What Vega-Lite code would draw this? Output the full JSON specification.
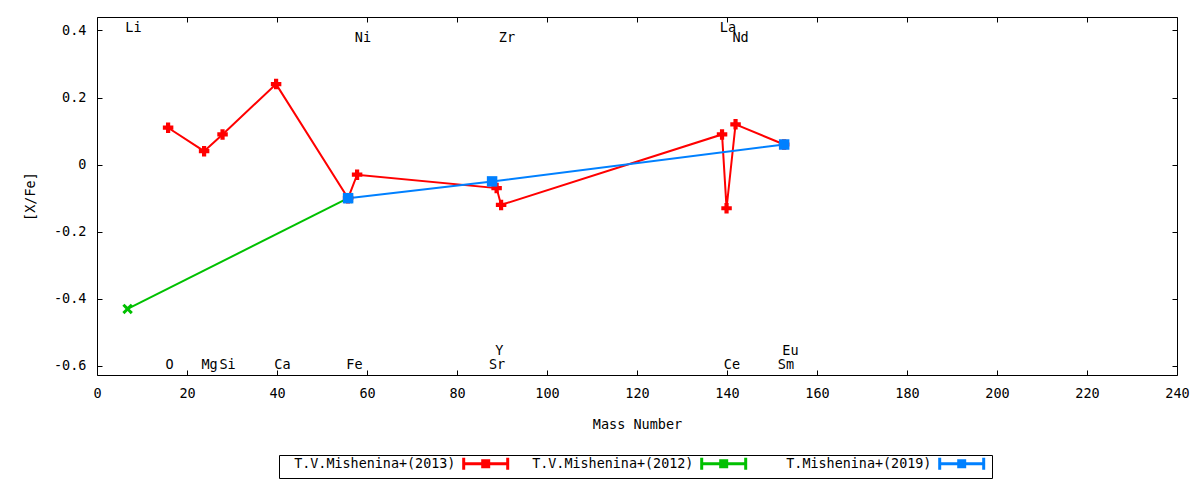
{
  "$schema": "https://vega.github.io/schema/vega-lite/v6.json",
  "width": 1080,
  "height": 358,
  "autosize": {"type": "none"},
  "padding": {"left": 97, "top": 17, "right": 23, "bottom": 105},
  "background": "white",
  "datasets": {
    "abund": [
      {"ref": "T.V.Mishenina+(2013)", "el": "O", "mass": 15.8, "xfe": 0.11},
      {"ref": "T.V.Mishenina+(2013)", "el": "Mg", "mass": 23.8, "xfe": 0.04},
      {"ref": "T.V.Mishenina+(2013)", "el": "Si", "mass": 27.9, "xfe": 0.09},
      {"ref": "T.V.Mishenina+(2013)", "el": "Ca", "mass": 39.8, "xfe": 0.24},
      {"ref": "T.V.Mishenina+(2013)", "el": "Fe", "mass": 55.8, "xfe": -0.10},
      {"ref": "T.V.Mishenina+(2013)", "el": "Ni", "mass": 57.8, "xfe": -0.03},
      {"ref": "T.V.Mishenina+(2013)", "el": "Sr", "mass": 88.8, "xfe": -0.07},
      {"ref": "T.V.Mishenina+(2013)", "el": "Y", "mass": 89.8, "xfe": -0.12},
      {"ref": "T.V.Mishenina+(2013)", "el": "La", "mass": 138.9, "xfe": 0.09},
      {"ref": "T.V.Mishenina+(2013)", "el": "Ce", "mass": 139.9, "xfe": -0.13},
      {"ref": "T.V.Mishenina+(2013)", "el": "Nd", "mass": 141.9, "xfe": 0.12},
      {"ref": "T.V.Mishenina+(2013)", "el": "Eu", "mass": 152.7, "xfe": 0.06},
      {"ref": "T.V.Mishenina+(2012)", "el": "Li", "mass": 6.8, "xfe": -0.43},
      {"ref": "T.V.Mishenina+(2012)", "el": "Fe", "mass": 55.8, "xfe": -0.10},
      {"ref": "T.Mishenina+(2019)", "el": "Fe", "mass": 55.8, "xfe": -0.10},
      {"ref": "T.Mishenina+(2019)", "el": "Sr", "mass": 87.8, "xfe": -0.05},
      {"ref": "T.Mishenina+(2019)", "el": "Eu", "mass": 152.7, "xfe": 0.06}
    ],
    "names": [
      {"el": "Li", "mass": 8.1, "xfe": 0.407},
      {"el": "La", "mass": 140.2, "xfe": 0.407},
      {"el": "Ni", "mass": 59.1, "xfe": 0.377},
      {"el": "Zr", "mass": 91.1, "xfe": 0.377},
      {"el": "Nd", "mass": 143.0, "xfe": 0.377},
      {"el": "O", "mass": 16.1, "xfe": -0.596},
      {"el": "Mg", "mass": 25.0, "xfe": -0.596},
      {"el": "Si", "mass": 29.0, "xfe": -0.596},
      {"el": "Ca", "mass": 41.2, "xfe": -0.596},
      {"el": "Fe", "mass": 57.2, "xfe": -0.596},
      {"el": "Sr", "mass": 88.9, "xfe": -0.596},
      {"el": "Ce", "mass": 141.1, "xfe": -0.596},
      {"el": "Sm", "mass": 153.1, "xfe": -0.596},
      {"el": "Y", "mass": 89.4, "xfe": -0.555},
      {"el": "Eu", "mass": 154.1, "xfe": -0.555}
    ]
  },
  "layer": [
    {
      "data": {"name": "abund"},
      "mark": {"type": "line", "strokeWidth": 2},
      "encoding": {
        "x": {
          "field": "mass", "type": "quantitative",
          "scale": {"domain": [0, 240], "nice": false, "zero": false},
          "axis": {"orient": "bottom", "values": [0, 20, 40, 60, 80, 100, 120, 140, 160, 180, 200, 220, 240], "title": "Mass Number", "titlePadding": 18}
        },
        "y": {
          "field": "xfe", "type": "quantitative",
          "scale": {"domain": [-0.627, 0.44], "nice": false, "zero": false},
          "axis": {"orient": "left", "values": [-0.6, -0.4, -0.2, 0, 0.2, 0.4], "labelExpr": "'' + datum.value", "title": "[X/Fe]", "titlePadding": 16}
        },
        "color": {
          "field": "ref", "type": "nominal",
          "scale": {
            "domain": ["T.V.Mishenina+(2013)", "T.V.Mishenina+(2012)", "T.Mishenina+(2019)"],
            "range": ["#ff0000", "#00c000", "#0080ff"]
          },
          "legend": {
            "orient": "none", "legendX": 182, "legendY": 438,
            "direction": "horizontal", "columns": 3, "title": null,
            "padding": 2, "strokeColor": "black",
            "symbolType": "M-41,0M-4.4,-1.2V1.2M-4.4,0H4.4M4.4,-1.2V1.2M-0.6,-0.6H0.6V0.6H-0.6Z",
            "symbolSize": 100, "symbolStrokeWidth": 3,
            "labelAlign": "right", "labelOffset": -37, "symbolOffset": 198,
            "columnPadding": -2, "labelLimit": 0
          }
        }
      }
    },
    {
      "data": {"name": "abund"},
      "transform": [{"filter": "datum.ref == 'T.V.Mishenina+(2013)'"}],
      "mark": {"type": "point", "shape": "cross", "filled": true, "opacity": 1, "size": 110, "color": "#ff0000"},
      "encoding": {
        "x": {
          "field": "mass", "type": "quantitative",
          "axis": {"orient": "top", "values": [0, 20, 40, 60, 80, 100, 120, 140, 160, 180, 200, 220, 240], "labels": false, "title": null}
        },
        "y": {
          "field": "xfe", "type": "quantitative",
          "axis": {"orient": "right", "values": [-0.6, -0.4, -0.2, 0, 0.2, 0.4], "labels": false, "title": null}
        }
      }
    },
    {
      "data": {"name": "abund"},
      "transform": [{"filter": "datum.ref == 'T.V.Mishenina+(2012)'"}],
      "mark": {"type": "point", "shape": "M-1,-0.6L-0.6,-1L0,-0.4L0.6,-1L1,-0.6L0.4,0L1,0.6L0.6,1L0,0.4L-0.6,1L-1,0.6L-0.4,0Z", "filled": true, "opacity": 1, "size": 110, "color": "#00c000"},
      "encoding": {
        "x": {"field": "mass", "type": "quantitative", "axis": null},
        "y": {"field": "xfe", "type": "quantitative", "axis": null}
      }
    },
    {
      "data": {"name": "abund"},
      "transform": [{"filter": "datum.ref == 'T.Mishenina+(2019)'"}],
      "mark": {"type": "point", "shape": "square", "filled": true, "opacity": 1, "size": 110, "color": "#0080ff"},
      "encoding": {
        "x": {"field": "mass", "type": "quantitative", "axis": null},
        "y": {"field": "xfe", "type": "quantitative", "axis": null}
      }
    },
    {
      "data": {"name": "names"},
      "mark": {"type": "text", "font": "DejaVu Sans Mono", "fontSize": 13.5, "color": "black", "baseline": "middle", "align": "center"},
      "encoding": {
        "x": {"field": "mass", "type": "quantitative", "axis": null},
        "y": {"field": "xfe", "type": "quantitative", "axis": null},
        "text": {"field": "el"}
      }
    }
  ],
  "resolve": {"axis": {"x": "independent", "y": "independent"}},
  "view": {"stroke": "black", "strokeWidth": 1},
  "config": {
    "font": "DejaVu Sans Mono",
    "axis": {
      "domain": false, "grid": false, "labelFlush": false,
      "tickColor": "black", "tickSize": -5, "tickWidth": 1,
      "labelFont": "DejaVu Sans Mono", "labelFontSize": 13.5, "labelColor": "black", "labelPadding": 16,
      "titleFont": "DejaVu Sans Mono", "titleFontSize": 13.5, "titleFontWeight": "normal", "titleColor": "black"
    },
    "legend": {
      "labelFont": "DejaVu Sans Mono", "labelFontSize": 13.4, "labelColor": "black"
    }
  }
}
